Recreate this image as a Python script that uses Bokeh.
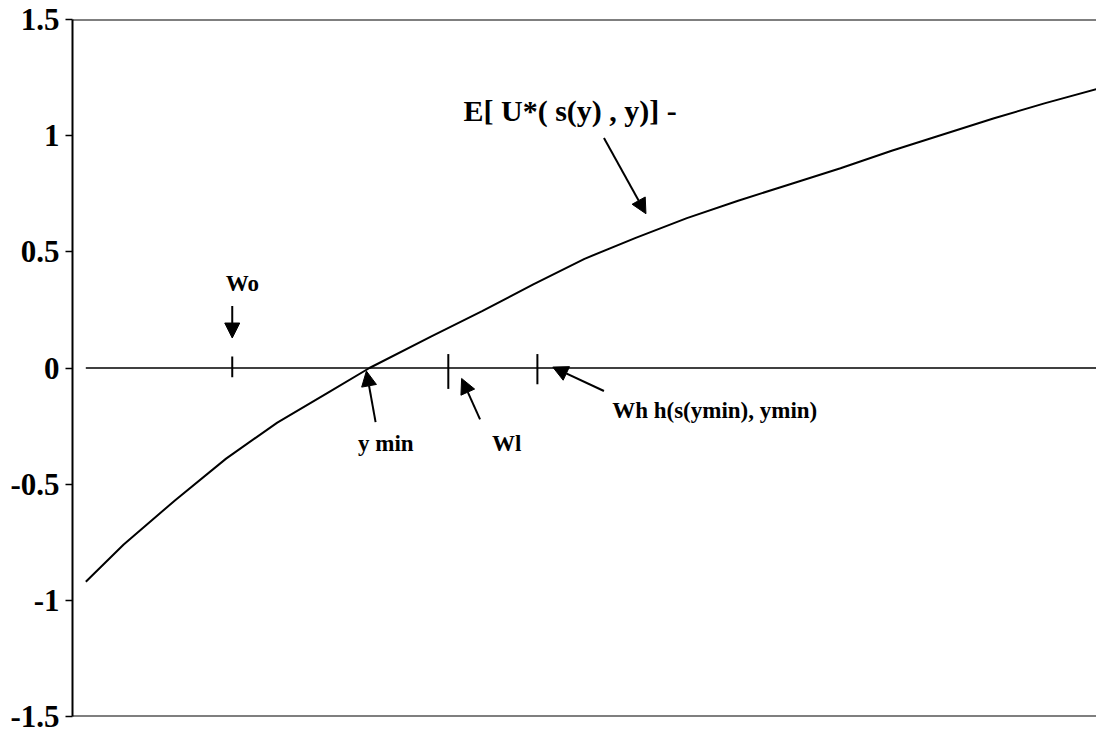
from bokeh.plotting import figure
from bokeh.models import (ColumnDataSource, Span, Arrow, NormalHead,
                          FixedTicker, CustomJSTickFormatter)
from bokeh.core.properties import value
from bokeh.embed import file_html
from bokeh.resources import INLINE

# Expected utility curve E[U*(s(y), y)] against wealth y
wealth = [1.3, 5, 10, 15, 20, 25, 29, 35, 40, 45, 50, 55, 60, 65, 70, 75, 80, 85, 90, 95, 100]
utility = [-0.92, -0.76, -0.57, -0.39, -0.235, -0.105, 0.0, 0.135, 0.245, 0.36, 0.47,
           0.56, 0.645, 0.72, 0.79, 0.86, 0.935, 1.005, 1.075, 1.14, 1.20]

# Reference line at zero, spanning the same wealth range
zero_x = [1.3, 100]
zero_y = [0, 0]

# Marked wealth levels on the zero line: Wo, Wl, Wh
mark_names = ["Wo", "Wl", "Wh"]
mark_x = [15.6, 36.7, 45.4]
mark_top = [0.05, 0.06, 0.06]
mark_bottom = [-0.04, -0.09, -0.07]

# Y axis ticks
tick_values = [-1.5, -1, -0.5, 0, 0.5, 1, 1.5]
tick_labels = ["-1.5", "-1", "-0.5", "0", "0.5", "1", "1.5"]

# Annotation arrows (start -> end)
arrow_x0 = [51.9, 15.6, 29.6, 39.8, 51.9]
arrow_y0 = [0.99, 0.267, -0.233, -0.221, -0.099]
arrow_x1 = [56.0, 15.6, 28.7, 38.0, 46.9]
arrow_y1 = [0.664, 0.129, -0.013, -0.045, 0.004]

# Annotation labels
label_text = ["E[ U*( s(y) , y)] -", "Wo", "y min", "Wl", "Wh  h(s(ymin), ymin)"]
label_x = [48.6, 16.6, 30.6, 42.4, 52.7]
label_y = [1.108, 0.362, -0.323, -0.323, -0.185]
label_size = ["30px", "23px", "23px", "23px", "23px"]
label_align = ["center", "center", "center", "center", "left"]

SERIF = "Liberation Serif"

p = figure(width=1096, height=734, x_range=(0, 100), y_range=(-1.5, 1.5),
           output_backend="svg", toolbar_location=None, x_axis_location=None,
           min_border_left=72, min_border_right=0, min_border_top=19,
           min_border_bottom=18, background_fill_color="white",
           border_fill_color="white")
p.grid.visible = False
p.outline_line_color = None

# Top and bottom frame lines
for loc in (1.5, -1.5):
    p.add_layout(Span(location=loc, dimension="width", line_color="black", line_width=2))

ax = p.yaxis[0]
ax.ticker = FixedTicker(ticks=tick_values, minor_ticks=[])
ax.formatter = CustomJSTickFormatter(
    args=dict(vals=tick_values, labs=tick_labels),
    code="const i = vals.indexOf(tick); return i >= 0 ? labs[i] : String(tick);")
ax.axis_line_color = "black"
ax.axis_line_width = 2
ax.major_tick_line_color = "black"
ax.major_tick_line_width = 1.5
ax.major_tick_out = 7
ax.major_tick_in = 0
ax.minor_tick_out = 0
ax.minor_tick_in = 0
ax.major_label_standoff = 6
ax.major_label_text_font = SERIF
ax.major_label_text_font_style = "bold"
ax.major_label_text_font_size = "31px"
ax.major_label_text_color = "black"

p.line(zero_x, zero_y, line_color="black", line_width=1.3)
p.line(wealth, utility, line_color="black", line_width=2)

marks = ColumnDataSource(dict(x=mark_x, top=mark_top, bottom=mark_bottom, name=mark_names))
p.segment(x0="x", y0="bottom", x1="x", y1="top", source=marks,
          line_color="black", line_width=2)

arrows = ColumnDataSource(dict(x0=arrow_x0, y0=arrow_y0, x1=arrow_x1, y1=arrow_y1))
p.add_layout(Arrow(source=arrows, x_start="x0", y_start="y0", x_end="x1", y_end="y1",
                   line_color="black", line_width=2,
                   end=NormalHead(size=15, fill_color="black", line_color="black",
                                  line_width=1)))

labels = ColumnDataSource(dict(x=label_x, y=label_y, text=label_text,
                               size=label_size, align=label_align))
p.text(x="x", y="y", text="text", source=labels, text_font=value(SERIF),
       text_font_style="bold", text_font_size="size", text_align="align",
       text_baseline="middle", text_color="black")

open("out.html", "w").write(file_html(p, INLINE))
